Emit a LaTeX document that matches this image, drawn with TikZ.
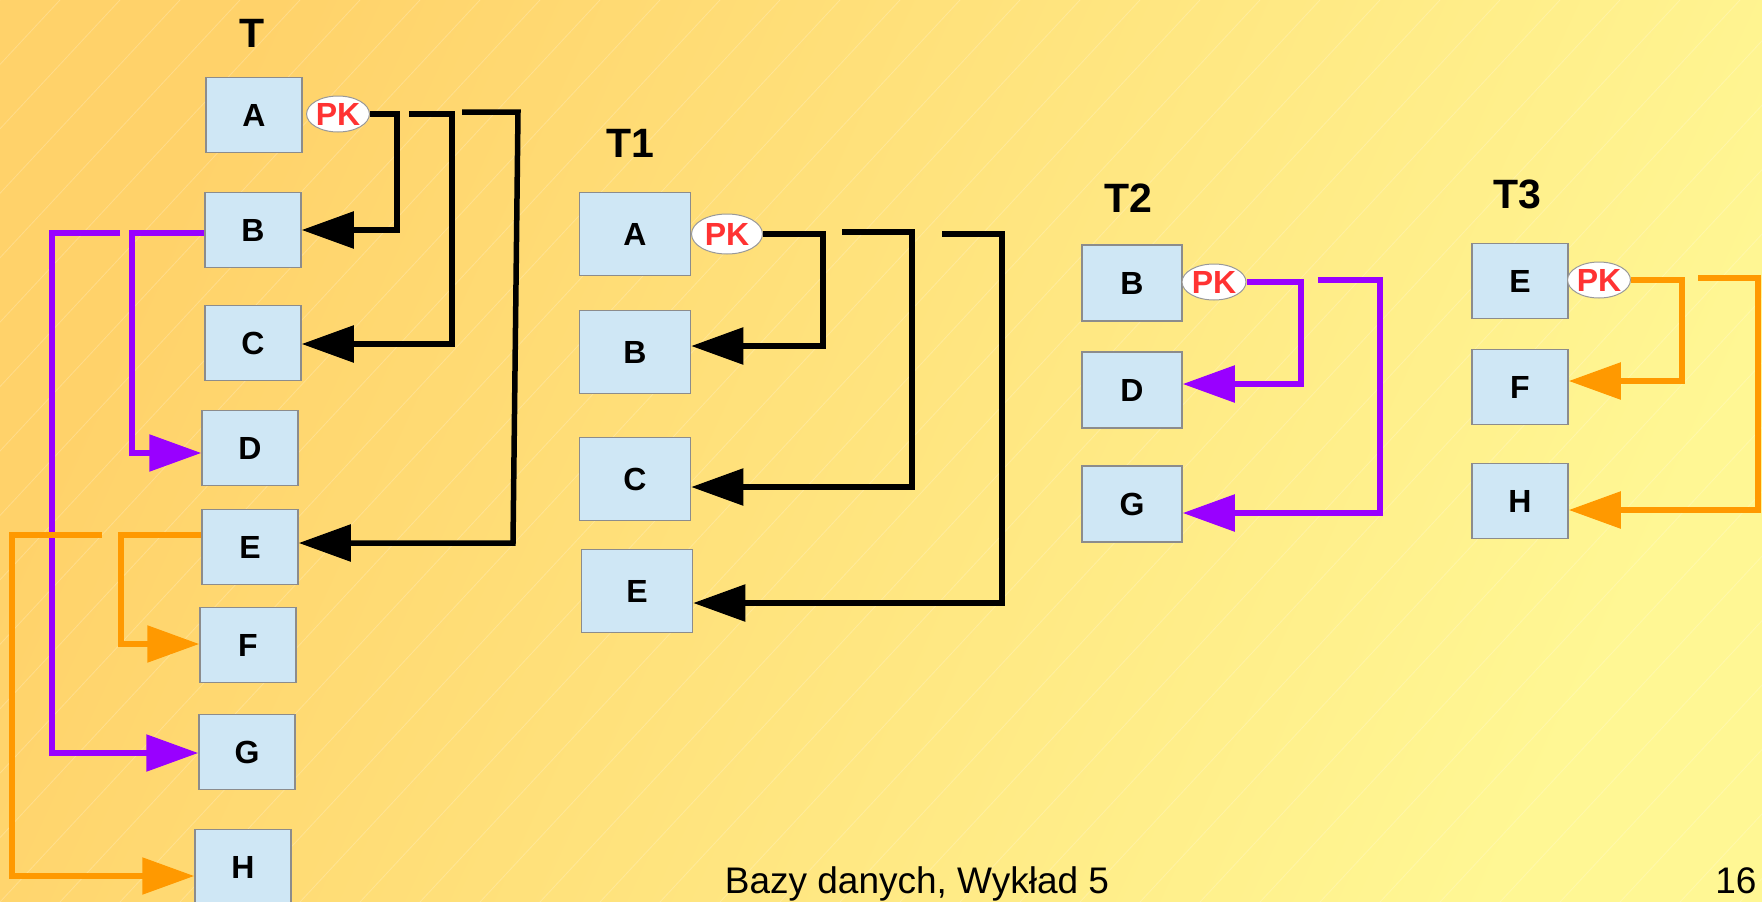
\documentclass[tikz,border=0pt]{standalone}
\usepackage{fontspec}
\setmainfont{Liberation Sans}
\usetikzlibrary{arrows.meta,shapes.geometric}
\definecolor{bgtop}{RGB}{255,210,106}
\definecolor{bgbot}{RGB}{255,247,148}
\definecolor{fieldblue}{RGB}{207,231,245}
\definecolor{pkred}{RGB}{255,51,51}
\definecolor{lnpurple}{RGB}{153,0,255}
\definecolor{lnorange}{RGB}{255,153,0}

\begin{document}
\begin{tikzpicture}[x=1pt,y=-1pt,
  field/.style={draw=black!45,line width=1.5pt,fill=fieldblue,inner sep=0pt,
    minimum width=96pt,minimum height=75pt,font=\fontsize{32}{32}\selectfont\bfseries},
  bigfield/.style={field,minimum width=111pt,minimum height=83pt},
  midfield/.style={field,minimum width=100pt,minimum height=76pt},
  pkey/.style={ellipse,draw=black!40,line width=1pt,fill=white,inner sep=0pt,
    minimum width=62pt,minimum height=36pt,text=pkred,
    font=\fontsize{32}{32}\selectfont\bfseries},
  tname/.style={anchor=base,font=\fontsize{41}{41}\selectfont\bfseries},
  link/.style={line width=5.5pt,-{Triangle[length=52pt,width=36pt]}}]
  \useasboundingbox (0,0) rectangle (1762,902);
  \clip (0,0) rectangle (1762,902);
  % Background
  \shade[left color=bgtop,right color=bgbot,shading angle=65] (0,0) rectangle (1762,902);
  \foreach \s in {-900,-840,...,1800}
    \draw[white,opacity=.22,line width=.8pt] (\s,902) -- ++(840,-902);

  % Table T
  \node[tname] (lblT) at (252,47) {T};
  \node[field] (tA) at (254,115) {A};
  \node[field] (tB) at (253,230) {B};
  \node[field] (tC) at (253,343) {C};
  \node[field] (tD) at (250,448) {D};
  \node[field] (tE) at (250,547) {E};
  \node[field] (tF) at (248,645) {F};
  \node[field] (tG) at (247,752) {G};
  \node[field] (tH) at (243,867) {H};
  \node[pkey] (pk) at (338,114) {PK};

  % Table T1
  \node[tname] (lblT1) at (630,157) {T1};
  \node[bigfield] (t1A) at (635,234) {A};
  \node[bigfield] (t1B) at (635,352) {B};
  \node[bigfield] (t1C) at (635,479) {C};
  \node[bigfield] (t1E) at (637,591) {E};
  \node[pkey,minimum width=71pt,minimum height=40pt] (pk1) at (727,234) {PK};

  % Table T2
  \node[tname] (lblT2) at (1128,212) {T2};
  \node[midfield] (t2B) at (1132,283) {B};
  \node[midfield] (t2D) at (1132,390) {D};
  \node[midfield] (t2G) at (1132,504) {G};
  \node[pkey,minimum width=64pt] (pk2) at (1214,282) {PK};

  % Table T3
  \node[tname] (lblT3) at (1517,208) {T3};
  \node[field] (t3E) at (1520,281) {E};
  \node[field] (t3F) at (1520,387) {F};
  \node[field] (t3H) at (1520,501) {H};
  \node[pkey] (pk3) at (1599,280) {PK};

  % Dependencies in T
  \draw[link] (pk.east) -| (397,230) -- (tB.east |- 0,230);
  \coordinate (a2) at (409,114);
  \draw[link] (a2) -| (452,344) -- (tC.east |- 0,344);
  \coordinate (a3) at (462,112);
  \draw[link] (a3) -- (518,112) -- (513,543) -- (tE.east |- 0,543);
  \draw[link,lnpurple] (tB.west |- 0,233) -| (132,453) -- (tD.west |- 0,453);
  \coordinate (b2) at (120,233);
  \draw[link,lnpurple] (b2) -| (52,753) -- (tG.west |- 0,753);
  \draw[link,lnorange] (tE.west |- 0,535) -| (121,644) -- (tF.west |- 0,644);
  \coordinate (e2) at (102,535);
  \draw[link,lnorange] (e2) -| (12,876) -- (tH.west |- 0,876);

  % Dependencies in T1, T2, T3
  \draw[link] (pk1.east) -| (823,346) -- (t1B.east |- 0,346);
  \coordinate (c2) at (842,232);
  \draw[link] (c2) -| (912,487) -- (t1C.east |- 0,487);
  \coordinate (c3) at (942,234);
  \draw[link] (c3) -| (1002,603) -- (t1E.east |- 0,603);
  \draw[link,lnpurple] (pk2.east) -| (1301,384) -- (t2D.east |- 0,384);
  \coordinate (d2) at (1318,280);
  \draw[link,lnpurple] (d2) -| (1380,513) -- (t2G.east |- 0,513);
  \draw[link,lnorange] (pk3.east) -| (1682,381) -- (t3F.east |- 0,381);
  \coordinate (f2) at (1698,278);
  \draw[link,lnorange] (f2) -| (1758,510) -- (t3H.east |- 0,510);

  % Footer
  \node[anchor=base,font=\fontsize{37}{37}\selectfont] (foot) at (917,893) {Bazy danych, Wykład 5};
  \node[anchor=base east,font=\fontsize{37}{37}\selectfont] (page) at (1760,893) {16};
\end{tikzpicture}
\end{document}
